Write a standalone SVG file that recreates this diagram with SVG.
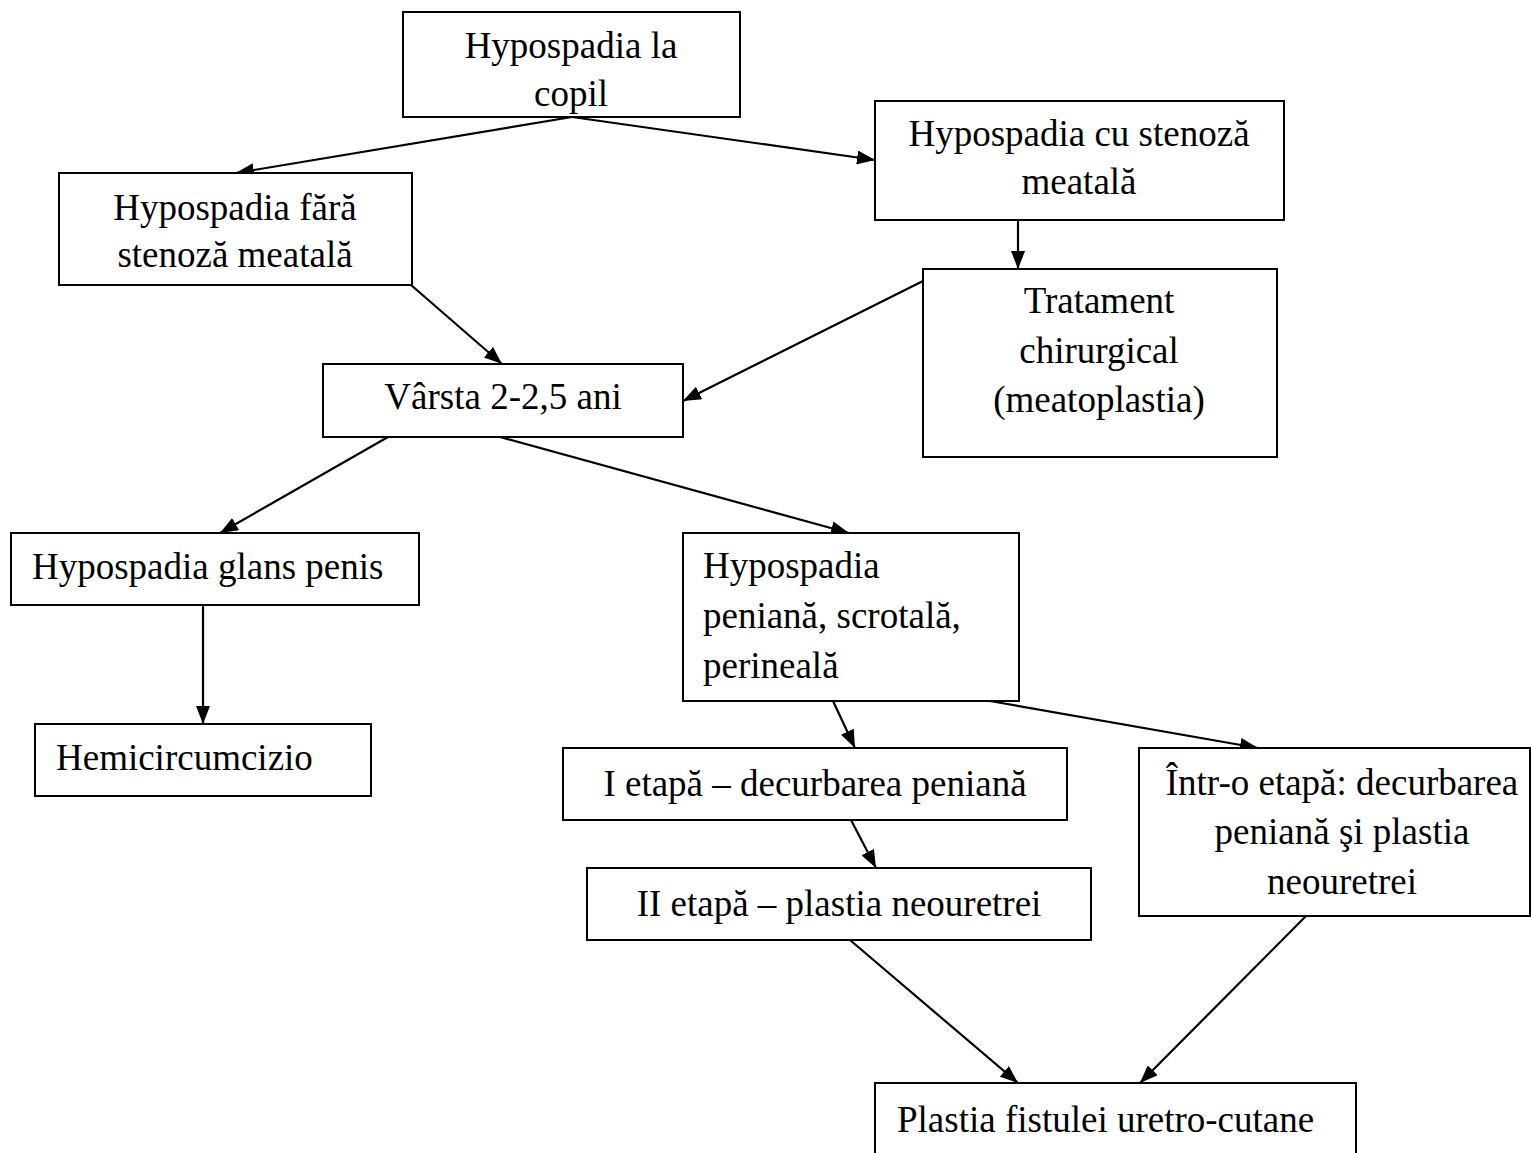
<svg xmlns="http://www.w3.org/2000/svg" width="1531" height="1153" viewBox="0 0 1531 1153">
<style>
.box{fill:#fff;stroke:#000;stroke-width:2}
.t{font-family:"Liberation Serif","Times New Roman",serif;font-size:37px;fill:#000}
.c{text-anchor:middle}
.e{stroke:#000;stroke-width:2.2;fill:none;marker-end:url(#ah)}
</style>
<defs>
<marker id="ah" markerWidth="18" markerHeight="14" refX="18" refY="7" orient="auto" markerUnits="userSpaceOnUse">
<path d="M0,0 L18,7 L0,14 Z" fill="#000"/>
</marker>
</defs>
<rect width="1531" height="1153" fill="#fff"/>
<g id="connectors">
<line class="e" x1="572" y1="117" x2="236" y2="173"/>
<line class="e" x1="572" y1="117" x2="875" y2="160"/>
<line class="e" x1="1018" y1="220" x2="1018" y2="269"/>
<line class="e" x1="411" y1="285" x2="502" y2="364"/>
<line class="e" x1="923" y1="281" x2="683" y2="401"/>
<line class="e" x1="388" y1="437" x2="220" y2="533"/>
<line class="e" x1="500" y1="437" x2="849" y2="533"/>
<line class="e" x1="203" y1="605" x2="203" y2="724"/>
<line class="e" x1="833" y1="701" x2="855" y2="748"/>
<line class="e" x1="990" y1="701" x2="1258" y2="748"/>
<line class="e" x1="851" y1="820" x2="876" y2="868"/>
<line class="e" x1="850" y1="940" x2="1018" y2="1083"/>
<line class="e" x1="1306" y1="916" x2="1140" y2="1083"/>
</g>
<g id="n1"><rect class="box" x="403" y="12" width="337" height="105"/>
<text class="t c" x="571" y="58">Hypospadia la</text>
<text class="t c" x="571" y="106">copil</text></g>
<g id="n2"><rect class="box" x="875" y="101" width="409" height="119"/>
<text class="t c" x="1079" y="146">Hypospadia cu stenoză</text>
<text class="t c" x="1079" y="194">meatală</text></g>
<g id="n3"><rect class="box" x="59" y="173" width="353" height="112"/>
<text class="t c" x="235" y="220">Hypospadia fără</text>
<text class="t c" x="235" y="267">stenoză meatală</text></g>
<g id="n4"><rect class="box" x="923" y="269" width="354" height="188"/>
<text class="t c" x="1099" y="313">Tratament</text>
<text class="t c" x="1099" y="363">chirurgical</text>
<text class="t c" x="1099" y="412">(meatoplastia)</text></g>
<g id="n5"><rect class="box" x="323" y="364" width="360" height="73"/>
<text class="t c" x="503" y="409">Vârsta 2-2,5 ani</text></g>
<g id="n6"><rect class="box" x="11" y="533" width="408" height="72"/>
<text class="t" x="32" y="579">Hypospadia glans penis</text></g>
<g id="n7"><rect class="box" x="35" y="724" width="336" height="72"/>
<text class="t" x="56" y="770">Hemicircumcizio</text></g>
<g id="n8"><rect class="box" x="683" y="533" width="336" height="168"/>
<text class="t" x="703" y="578">Hypospadia</text>
<text class="t" x="703" y="628">peniană, scrotală,</text>
<text class="t" x="703" y="678">perineală</text></g>
<g id="n9"><rect class="box" x="563" y="748" width="504" height="72"/>
<text class="t c" x="815" y="796">I etapă – decurbarea peniană</text></g>
<g id="n10"><rect class="box" x="587" y="868" width="504" height="72"/>
<text class="t c" x="839" y="916">II etapă – plastia neouretrei</text></g>
<g id="n11"><rect class="box" x="1139" y="748" width="391" height="168"/>
<text class="t c" x="1342" y="795">Într-o etapă: decurbarea</text>
<text class="t c" x="1342" y="844">peniană şi plastia</text>
<text class="t c" x="1342" y="894">neouretrei</text></g>
<g id="n12"><rect class="box" x="875" y="1083" width="481" height="80"/>
<text class="t" x="897" y="1132">Plastia fistulei uretro-cutane</text></g>
</svg>
